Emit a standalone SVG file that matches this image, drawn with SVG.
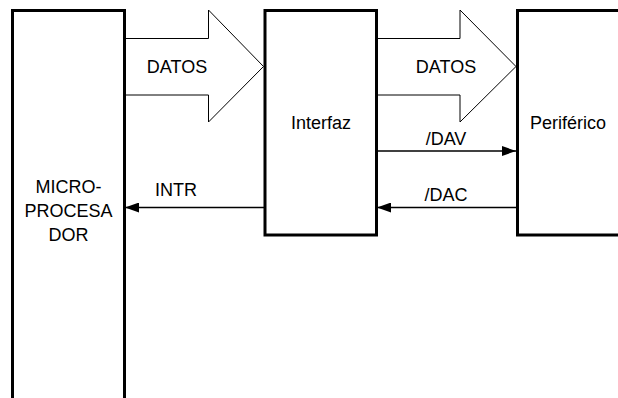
<svg xmlns="http://www.w3.org/2000/svg" width="618" height="398" viewBox="0 0 618 398">
<style>
.box{fill:#fff;stroke:#000;stroke-width:3}
.bus{fill:#fff;stroke:#000;stroke-width:1}
.sig{stroke:#000;stroke-width:1.6;fill:none}
text{font-family:"Liberation Sans",Arial,sans-serif;font-size:18px;fill:#000}
.c{text-anchor:middle}
</style>
<defs>
<marker id="ah" viewBox="0 0 14 10" refX="14" refY="5" markerWidth="14" markerHeight="10" markerUnits="userSpaceOnUse" orient="auto">
<path d="M0,0 L14,5 L0,10 Z" fill="#000"/>
</marker>
</defs>
<g id="connectors">
<path class="bus" d="M124,38.5 H208.5 V10 L263.5,66.5 L208.5,122 V95 H124"/>
<path class="bus" d="M377,38.5 H460 V10 L516,66.5 L460,122 V95 H377"/>
<line class="sig" x1="377" y1="151" x2="516" y2="151" marker-end="url(#ah)"/>
<line class="sig" x1="516" y1="207.5" x2="377" y2="207.5" marker-end="url(#ah)"/>
<line class="sig" x1="264" y1="207.5" x2="125" y2="207.5" marker-end="url(#ah)"/>
<text x="177" y="73" class="c">DATOS</text>
<text x="446" y="73" class="c">DATOS</text>
<text x="446" y="145" class="c">/DAV</text>
<text x="446" y="201" class="c">/DAC</text>
<text x="176" y="196" class="c">INTR</text>
</g>
<g id="microprocesador">
<rect class="box" x="12.5" y="10.5" width="112" height="400"/>
<text x="68.5" y="192.5" class="c">MICRO-</text>
<text x="68.5" y="216.5" class="c">PROCESA</text>
<text x="68.5" y="240.5" class="c">DOR</text>
</g>
<g id="interfaz">
<rect class="box" x="265" y="10.5" width="111.5" height="224.5"/>
<text x="321" y="128.5" class="c">Interfaz</text>
</g>
<g id="periferico">
<rect class="box" x="517.5" y="10.5" width="120" height="224.5"/>
<text x="568" y="129" class="c">Periférico</text>
</g>
</svg>
